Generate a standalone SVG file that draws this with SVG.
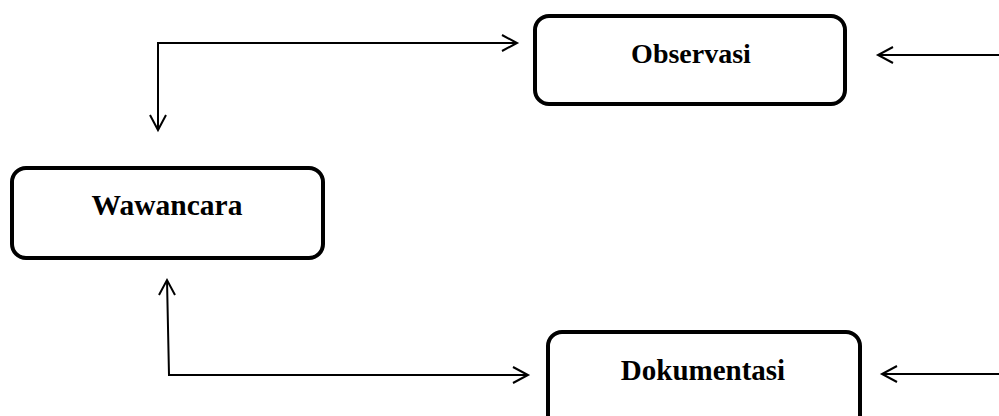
<svg xmlns="http://www.w3.org/2000/svg" width="999" height="416" viewBox="0 0 999 416">
<style>
.box{fill:#fff;stroke:#000;stroke-width:4}
.lbl{font-family:"Liberation Serif","Times New Roman",serif;font-weight:bold;font-size:29px;text-anchor:middle;fill:#000}
.con{fill:none;stroke:#000;stroke-width:2}
.head{fill:none;stroke:#000;stroke-width:2}
</style>
<rect width="999" height="416" fill="#fff"/>
<g id="observasi"><rect class="box" x="535" y="16" width="310" height="88" rx="14"/><text class="lbl" x="691" y="63" style="font-size:28px">Observasi</text></g>
<g id="wawancara"><rect class="box" x="12" y="168" width="311" height="90" rx="14"/><text class="lbl" x="167" y="215" style="font-size:29.5px">Wawancara</text></g>
<g id="dokumentasi"><rect class="box" x="548" y="332" width="312" height="100" rx="14"/><text class="lbl" x="703" y="380">Dokumentasi</text></g>
<g id="connectors">
<polyline class="con" points="158,130 158,43 517,43"/>
<polyline class="head" points="502,35 517,43 502,51"/>
<polyline class="head" points="150,115 158,130 166,115"/>
<line class="con" x1="999" y1="55" x2="878" y2="55"/>
<polyline class="head" points="893,47 878,55 893,63"/>
<polyline class="con" points="167,280 169,375 528,375"/>
<polyline class="head" points="159,295 167,280 175,295"/>
<polyline class="head" points="513,367 528,375 513,383"/>
<line class="con" x1="999" y1="374" x2="882" y2="374"/>
<polyline class="head" points="897,366 882,374 897,382"/>
</g>
</svg>
